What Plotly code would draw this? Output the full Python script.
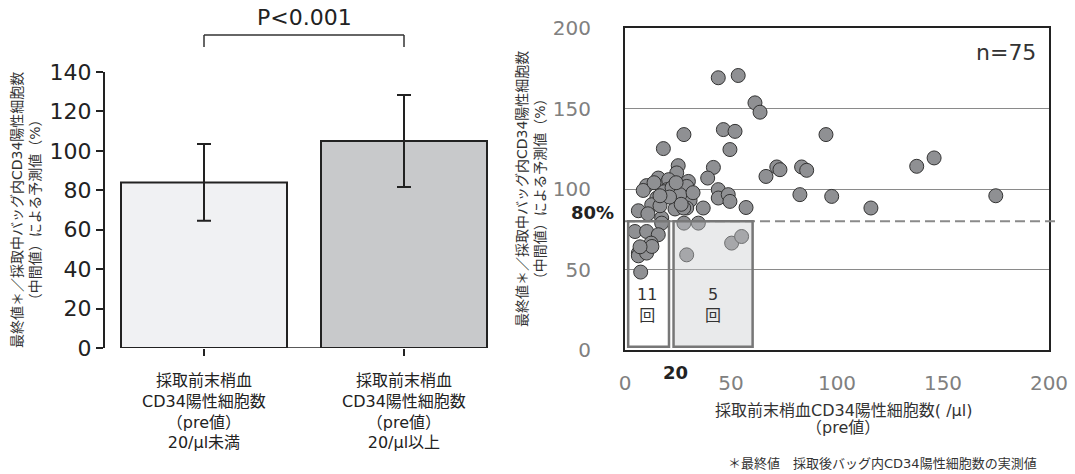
import plotly.graph_objects as go

W, H = 1075, 474
FONT = "DejaVu Sans, Noto Sans CJK JP, sans-serif"

# ---- left panel: mean ratio by pre-value group ----
group_labels = [
    "採取前末梢血<br>CD34陽性細胞数<br>（pre値）<br>20/μl未満",
    "採取前末梢血<br>CD34陽性細胞数<br>（pre値）<br>20/μl以上",
]
bar_means = [84, 105]
bar_sd = [19.5, 23.3]
bar_fill = ["#f0f1f3", "#c8c9cb"]
p_text = "P<0.001"

# ---- right panel: pre value vs. final/predicted ratio (n=75) ----
pre_values = [
    44.0, 53.4, 61.3, 63.7, 46.4, 51.9, 27.8, 94.8, 18.1, 49.5,
    25.1, 41.7, 39.0, 24.4, 71.6, 73.1, 83.3, 85.7, 66.5, 29.9,
    15.7, 18.9, 10.2, 8.6, 29.1, 44.0, 44.0, 48.7, 49.5, 82.5,
    97.5, 23.6, 30.7, 15.0, 12.6, 23.6, 29.1, 36.9, 57.1, 6.3,
    17.3, 17.3, 4.7, 10.2, 15.7, 12.3, 6.3, 6.3, 10.2, 7.4,
    27.8, 34.6, 29.1, 50.3, 55.0, 116.0, 137.6, 145.8, 174.9, 20.6,
    19.8, 27.7, 12.7, 7.1, 18.4, 13.7, 22.2, 25.9, 16.5, 32.1,
    26.5, 21.0, 16.5, 10.8, 24.1,
]
ratio_values = [
    169.1, 170.5, 153.5, 147.7, 136.9, 135.8, 133.8, 133.8, 125.1, 124.5,
    114.5, 113.4, 106.8, 110.0, 113.7, 112.0, 113.7, 111.6, 107.8, 104.7,
    106.8, 102.7, 102.1, 99.1, 101.6, 99.6, 94.4, 96.5, 92.3, 96.5,
    95.4, 93.3, 92.9, 94.4, 90.2, 87.6, 88.2, 88.2, 88.5, 86.5,
    82.0, 78.8, 73.6, 73.6, 71.6, 66.4, 60.2, 58.5, 60.2, 48.4,
    78.8, 78.8, 59.1, 66.4, 70.5, 88.2, 114.1, 119.3, 95.8, 105.8,
    99.6, 88.2, 64.3, 64.1, 98.3, 103.9, 100.8, 96.5, 89.6, 97.7,
    90.5, 95.0, 95.8, 84.6, 103.9,
]
threshold_pct = 80
threshold_pre = 20
count_low = 11
count_mid = 5
n_total = 75

y_title = "最終値＊／採取中バッグ内CD34陽性細胞数<br>（中間値）による予測値（%）"
x_title_1 = "採取前末梢血CD34陽性細胞数( /μl)"
x_title_2 = "（pre値）"
footnote = "＊最終値　採取後バッグ内CD34陽性細胞数の実測値"


def fx(px):
    return px / W


def fy(py):
    return 1 - py / H


def note(text, x, y, size, color="#333", xref="paper", yref="paper", **kw):
    d = dict(text=text, x=x, y=y, xref=xref, yref=yref, showarrow=False,
             xanchor="center", yanchor="middle", font=dict(size=size, color=color))
    d.update(kw)
    return d


fig = go.Figure()

fig.add_trace(go.Bar(
    x=[0, 1], y=bar_means, width=0.83,
    marker=dict(color=bar_fill, line=dict(color="#222", width=2)),
    error_y=dict(type="data", array=bar_sd, color="#222", thickness=2, width=7),
    xaxis="x", yaxis="y", showlegend=False, hoverinfo="skip",
))

fig.add_trace(go.Scatter(
    x=pre_values, y=ratio_values, mode="markers",
    marker=dict(size=14, color="#8f9093", line=dict(color="#333", width=1)),
    xaxis="x2", yaxis="y2", showlegend=False, hoverinfo="skip",
))

shapes = [
    # baseline between the two bars
    dict(type="line", xref="x", yref="y", x0=-0.415, x1=1.415, y0=0, y1=0,
         line=dict(color="#222", width=1.5)),
    # significance bracket
    dict(type="line", xref="x", yref="paper", x0=0, x1=1, y0=fy(35), y1=fy(35),
         line=dict(color="#333", width=1.5)),
    dict(type="line", xref="x", yref="paper", x0=0, x1=0, y0=fy(35), y1=fy(47),
         line=dict(color="#333", width=1.5)),
    dict(type="line", xref="x", yref="paper", x0=1, x1=1, y0=fy(35), y1=fy(47),
         line=dict(color="#333", width=1.5)),
    # 80% threshold
    dict(type="line", xref="paper", yref="y2", x0=fx(625), x1=fx(1058),
         y0=threshold_pct, y1=threshold_pct,
         line=dict(color="#8a8a8a", width=2, dash="10px,5px")),
    # regions below threshold
    dict(type="rect", xref="x2", yref="y2", x0=1.5, x1=20.75, y0=2, y1=threshold_pct,
         fillcolor="rgba(0,0,0,0)", line=dict(color="#777", width=2.5), layer="above"),
    dict(type="rect", xref="x2", yref="y2", x0=22.9, x1=60.2, y0=2, y1=threshold_pct,
         fillcolor="rgba(200,202,205,0.4)", line=dict(color="#777", width=2.5), layer="above"),
]

annotations = [
    note(p_text, 0.5, fy(17), 22, "#222", xref="x"),
    note(y_title, fx(26), fy(210), 14, textangle=-90),
    note(y_title, fx(531), fy(189), 14, textangle=-90),
    note("<b>%d%%</b>" % threshold_pct, fx(616), fy(212), 18, "#222", xanchor="right"),
    note("<b>%d</b>" % threshold_pre, threshold_pre, fy(372), 18, "#222", xref="x2", xshift=8),
    note("n=%d" % n_total, fx(1006), fy(53), 22),
    note("%d<br>回" % count_low, 10.5, fy(305), 16, xref="x2"),
    note("%d<br>回" % count_mid, 41.5, fy(305), 16, xref="x2"),
    note(x_title_1, fx(843), fy(410), 16),
    note(x_title_2, fx(843), fy(427), 16),
    note(footnote, fx(882), fy(463), 13),
]
for i, lab in enumerate(group_labels):
    annotations.append(note(lab, i, fy(369), 16, "#222", xref="x", yanchor="top"))

fig.update_layout(
    template="none",
    width=W, height=H,
    margin=dict(l=0, r=0, t=0, b=0, pad=0),
    paper_bgcolor="white", plot_bgcolor="white",
    font=dict(family=FONT, color="#333"),
    showlegend=False,
    shapes=shapes, annotations=annotations,
    xaxis=dict(domain=[fx(105), fx(505)], range=[-0.495, 1.505], anchor="y",
               automargin=False,
               tickvals=[0, 1], ticktext=["", ""], ticks="outside", ticklen=7,
               tickwidth=2, tickcolor="#222", showline=False, showgrid=False,
               zeroline=False),
    yaxis=dict(domain=[fy(348), fy(72)], range=[0, 140], dtick=20, anchor="x",
               automargin=False,
               ticks="outside", ticklen=7, tickwidth=2, tickcolor="#222",
               showline=True, linewidth=2, linecolor="#222", showgrid=False,
               zeroline=False, tickfont=dict(size=22, color="#222")),
    xaxis2=dict(domain=[fx(625), fx(1049)], range=[0, 200], dtick=50, anchor="y2",
                automargin=False,
                showline=True, mirror=True, linewidth=2, linecolor="#222",
                ticks="", showgrid=False, zeroline=False, ticklabelstandoff=14,
                tickfont=dict(size=20, color="#808080")),
    yaxis2=dict(domain=[fy(350), fy(28)], range=[0, 200], dtick=50, anchor="x2",
                automargin=False,
                showline=True, mirror=True, linewidth=2, linecolor="#222",
                ticks="", showgrid=True, gridcolor="#8a8a8a", gridwidth=1,
                zeroline=False, ticklabelstandoff=28,
                tickfont=dict(size=20, color="#808080")),
)

fig.write_html("out.html")
